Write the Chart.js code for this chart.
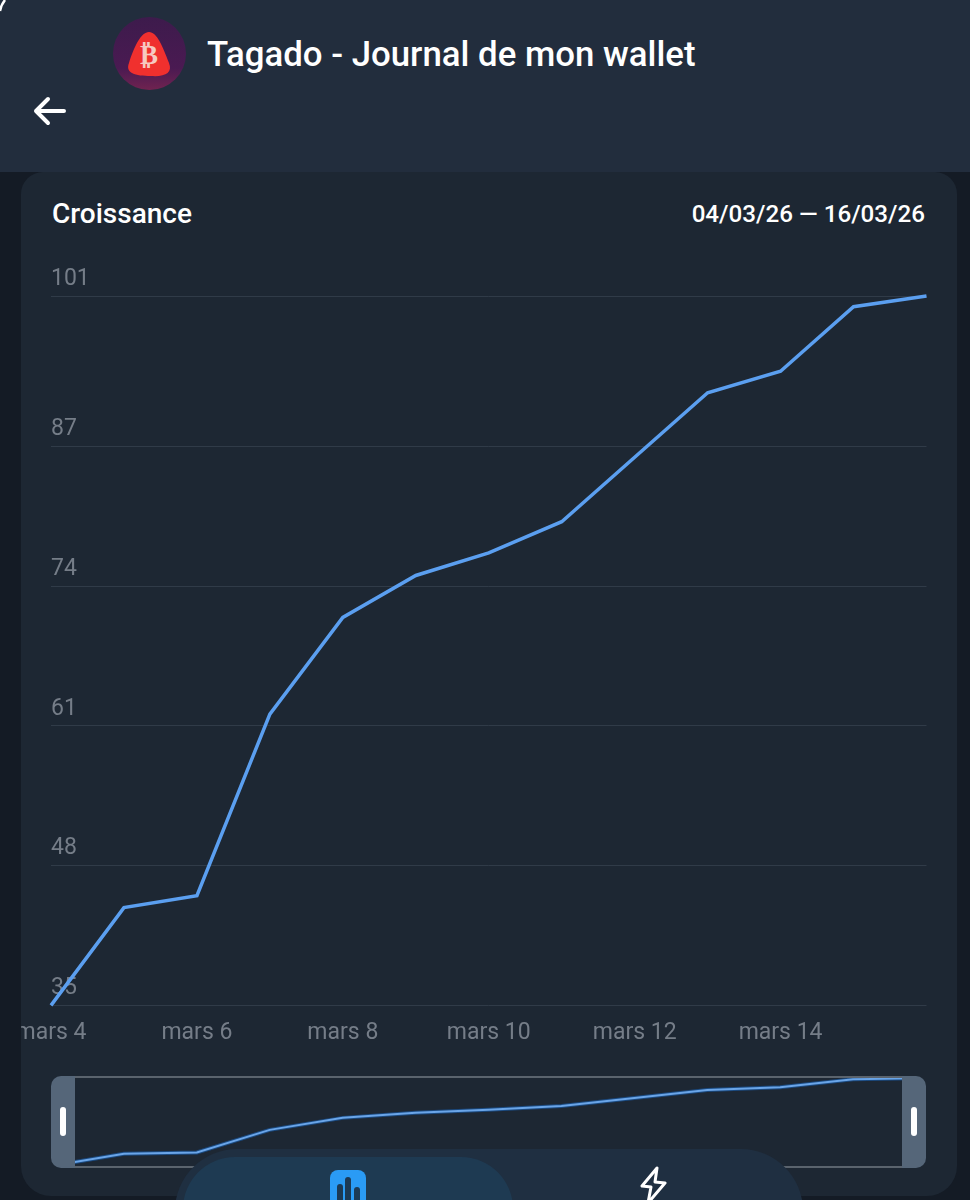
<!DOCTYPE html>
<html lang="fr">
<head>
<meta charset="utf-8">
<title>Tagado - Journal de mon wallet</title>
<script src="https://cdn.jsdelivr.net/npm/chart.js@4/dist/chart.umd.min.js"></script>
<style>
  html, body { margin: 0; padding: 0; }
  body { position: relative; width: 970px; height: 1200px; overflow: hidden; background: #141b25; font-family: Roboto, sans-serif; color: #fff; }
  .abs { position: absolute; }
  #header { left: 0; top: 0; width: 970px; height: 172px; background: #222d3d; }
  #title { left: 207px; top: 33px; font-size: 34.8px; line-height: 42px; font-weight: 500; white-space: nowrap; }
  #card { left: 21px; top: 172px; width: 936px; height: 1024px; background: #1d2733; border-radius: 22px 22px 30px 30px; overflow: hidden; }
  #cardTitle { left: 31px; top: 25px; font-size: 28px; line-height: 34px; font-weight: 500; white-space: nowrap; }
  #cardDates { right: 32px; top: 25px; font-size: 24.2px; line-height: 34px; font-weight: 500; white-space: nowrap; }
  #mainChart { left: -21px; top: 0; }
  #miniWindow { left: 54px; top: 898px; width: 827px; height: 104px; overflow: hidden; }
  #miniChart { left: -24px; top: 0; }
  .frameLine { left: 54px; width: 827px; height: 2px; background: #5a636d; }
  .handle { top: 904px; width: 24px; height: 92px; background: #556679; }
  .handle i { position: absolute; top: 31px; left: 9px; width: 6px; height: 29px; border-radius: 3px; background: #fff; }
  #navOuter { left: 175px; top: 1149px; width: 628px; height: 120px; border-radius: 62px 62px 0 0; background: #1f2f41; }
  #navActive { left: 183px; top: 1157px; width: 330px; height: 120px; border-radius: 52px 52px 0 0; background: #1e3a52; }
</style>
</head>
<body>
<svg class="abs" style="left:0;top:0;z-index:2" width="12" height="14"><path d="M0 11 Q1 5 5 0" stroke="#fff" stroke-width="2.5" fill="none"/></svg>
<div id="header" class="abs"></div>
<svg class="abs" style="left:113px;top:17px" width="74" height="74" viewBox="0 0 74 74">
  <defs><linearGradient id="logoBg" x1="0" y1="0" x2="0" y2="1"><stop offset="0" stop-color="#3d1b4c"/><stop offset="0.7" stop-color="#4a1a52"/><stop offset="1" stop-color="#702350"/></linearGradient></defs>
  <circle cx="36.5" cy="36.5" r="36.5" fill="url(#logoBg)"/>
  <path d="M36 15 C44 15 50 30 56 46 C60 56 52 60 38 59 C22 59 12 56 16 46 C21 30 28 15 36 15 Z" fill="#f0302e"/>
  <text x="36" y="47" font-family="DejaVu Sans" font-size="27" font-weight="700" text-anchor="middle" fill="#f6c9c0">₿</text>
</svg>
<div id="title" class="abs">Tagado - Journal de mon wallet</div>
<svg class="abs" style="left:30px;top:92px" width="40" height="38" viewBox="0 0 40 38">
  <path d="M18 7 L6 19 L18 31 M6 19 L34 19" stroke="#fff" stroke-width="4" stroke-linecap="round" stroke-linejoin="round" fill="none"/>
</svg>

<div id="card" class="abs">
  <div id="cardTitle" class="abs">Croissance</div>
  <div id="cardDates" class="abs">04/03/26 — 16/03/26</div>
  <canvas id="mainChart" class="abs" width="970" height="881"></canvas>
  <div id="miniWindow" class="abs"><canvas id="miniChart" class="abs" width="875" height="104"></canvas></div>
  <div class="abs frameLine" style="top:904px"></div>
  <div class="abs frameLine" style="top:994px"></div>
  <div class="abs handle" style="left:30px;border-radius:10px 0 0 10px"><i></i></div>
  <div class="abs handle" style="left:881px;border-radius:0 10px 10px 0"><i></i></div>
</div>

<div id="navOuter" class="abs"></div>
<div id="navActive" class="abs"></div>
<svg class="abs" style="left:330px;top:1170px" width="36" height="30" viewBox="0 0 36 30">
  <rect width="36" height="50" rx="8" fill="#2a9bf5"/>
  <rect x="7" y="14" width="6" height="30" rx="3" fill="#1c3a55"/>
  <rect x="15" y="7" width="6" height="30" rx="3" fill="#1c3a55"/>
  <rect x="24" y="17" width="6" height="30" rx="3" fill="#1c3a55"/>
</svg>
<svg class="abs" style="left:638px;top:1165px" width="32" height="35" viewBox="0 0 32 35">
  <path d="M19 3 L4 21 L13 22 L10 38 L27 18 L17 17 Z" stroke="#fff" stroke-width="3" stroke-linejoin="round" fill="none"/>
</svg>

<script>
// Values
const days = ["mars 4", "mars 5", "mars 6", "mars 7", "mars 8", "mars 9", "mars 10", "mars 11", "mars 12", "mars 13", "mars 14", "mars 15", "mars 16"];
const growth = [35, 44.1, 45.2, 62.1, 71.1, 75, 77.1, 80, 86, 92, 94, 100, 101];
const yTicks = [35, 48, 61, 74, 87, 101];
const xTicksShown = ["mars 4", "mars 6", "mars 8", "mars 10", "mars 12", "mars 14"];

const LINE_BLUE = "#5b9ff0";
const TICK_GREY = "#757d88";

// Main growth chart
new Chart(document.getElementById("mainChart"), {
  type: "line",
  data: {
    labels: days,
    datasets: [{
      data: growth,
      borderColor: LINE_BLUE,
      borderWidth: 3.5,
      pointRadius: 0,
      tension: 0,
      clip: false
    }]
  },
  options: {
    responsive: false,
    animation: false,
    layout: { padding: { left: 51, right: 43.5, top: 124, bottom: 0 } },
    plugins: { legend: { display: false }, tooltip: { enabled: false } },
    scales: {
      x: {
        grid: { display: false },
        border: { display: false },
        ticks: {
          autoSkip: false,
          maxRotation: 0,
          padding: 6,
          color: TICK_GREY,
          font: { family: "Roboto", size: 23 },
          callback: function (value) {
            const label = this.getLabelForValue(value);
            return xTicksShown.includes(label) ? label : "";
          }
        }
      },
      y: {
        min: 35,
        max: 101,
        afterBuildTicks: axis => { axis.ticks = yTicks.map(v => ({ value: v })); },
        grid: { color: "#303b48", lineWidth: 1, drawTicks: false },
        border: { display: false },
        ticks: {
          mirror: true,
          padding: 0,
          labelOffset: -17,
          color: TICK_GREY,
          font: { family: "Roboto", size: 23 }
        }
      }
    }
  }
});

// Range selector below: same series, the window clips the ends of the line
new Chart(document.getElementById("miniChart"), {
  type: "line",
  data: {
    labels: days,
    datasets: [
      { data: growth, borderColor: "#6aa5e8", borderWidth: 2, pointRadius: 0, tension: 0 },
      { data: growth, borderColor: "#1b4a80", borderWidth: 4, pointRadius: 0, tension: 0 }
    ]
  },
  options: {
    responsive: false,
    animation: false,
    layout: { padding: { top: 8, bottom: 8, left: 0, right: 0 } },
    plugins: { legend: { display: false }, tooltip: { enabled: false } },
    scales: {
      x: { display: false },
      y: { display: false, min: 35, max: 101 }
    }
  }
});
</script>
</body>
</html>
